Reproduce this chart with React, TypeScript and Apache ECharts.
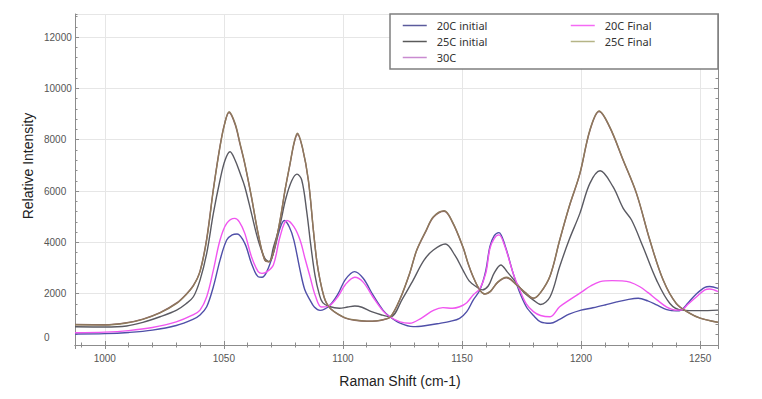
import React, { useEffect, useRef } from "react";
import * as echarts from "echarts";

const seriesNames = ["20C initial", "25C initial", "30C", "20C Final", "25C Final"];

const initial20C: [number, number][] = [
  [987.5, 430], [1000, 445], [1010, 490], [1020, 580], [1030, 760], [1037, 1000], [1040, 1170],
  [1042.8, 1490], [1045.6, 2270], [1048.4, 3310], [1051.2, 4090], [1053.5, 4290], [1055.6, 4325],
  [1058.8, 3960], [1061.6, 3180], [1064.4, 2660], [1066, 2640], [1068, 2850], [1070.8, 3570],
  [1073.6, 4550], [1075.4, 4850], [1077.5, 4600], [1079.4, 4090], [1082, 2920], [1084, 2150],
  [1086.2, 1750], [1088, 1480], [1090.4, 1350], [1094.3, 1530], [1098, 2000], [1101, 2550],
  [1104.9, 2860], [1108.5, 2600], [1112.6, 1950], [1116.8, 1360], [1119.7, 1100], [1124, 850],
  [1129.5, 715], [1135, 760], [1140.7, 845], [1145, 920], [1149, 1040], [1152, 1300], [1154.7, 1750],
  [1157.5, 2140], [1160, 2900], [1161.7, 3830], [1163.5, 4250], [1165.5, 4380], [1168, 3900],
  [1171.5, 2790], [1174, 2100], [1177, 1490], [1180, 1150], [1183, 900], [1187, 845], [1191, 1000],
  [1195, 1200], [1200, 1360], [1205, 1450], [1210, 1560], [1215, 1680], [1220, 1780], [1224, 1820],
  [1228, 1720], [1232, 1550], [1236, 1380], [1240, 1330], [1242, 1360], [1245, 1650], [1248.5, 2000],
  [1252, 2250], [1254, 2280], [1257.5, 2210],
];

const final20C: [number, number][] = [
  [987.5, 480], [1000, 500], [1010, 560], [1020, 680], [1030, 900], [1037, 1170], [1040, 1360],
  [1042.8, 1880], [1045.6, 2920], [1048.4, 4090], [1051.2, 4740], [1054.6, 4935], [1056.5, 4800],
  [1058.8, 4350], [1061.6, 3440], [1064.4, 2860], [1066, 2790], [1068, 2850], [1070.8, 3120],
  [1073.6, 4220], [1076.5, 4850], [1079.4, 4610], [1082, 4090], [1084, 3400], [1086.2, 2660],
  [1088.5, 1900], [1091, 1480], [1094.3, 1530], [1098, 1900], [1101, 2350], [1105, 2640],
  [1108.5, 2450], [1112.6, 1870], [1116.8, 1330], [1119.7, 1100], [1124, 900], [1128, 845],
  [1133, 1050], [1138, 1350], [1142, 1455], [1146, 1430], [1149, 1490], [1152, 1650], [1154.7, 1950],
  [1157.5, 2200], [1160, 2800], [1161.7, 3750], [1163.5, 4150], [1165.5, 4290], [1168, 3850],
  [1171.5, 2790], [1174, 2200], [1177, 1600], [1180, 1300], [1183, 1150], [1187, 1100], [1191, 1490],
  [1195, 1750], [1200, 2050], [1204, 2300], [1208, 2470], [1213, 2510], [1217, 2500], [1220.5, 2450],
  [1224.7, 2270], [1228, 2050], [1232, 1750], [1236, 1480], [1240, 1360], [1242, 1360], [1245, 1600],
  [1248.5, 1880], [1252, 2150], [1254, 2180], [1257.5, 2080],
];

const initial25C: [number, number][] = [
  [987.5, 710], [1000, 700], [1009.2, 740], [1016, 880], [1023.2, 1100], [1030.2, 1360], [1034, 1600],
  [1037.2, 1880], [1040, 2530], [1042.8, 3570], [1045.6, 5130], [1048.4, 6430], [1050.5, 7200],
  [1052.6, 7530], [1054.7, 7210], [1056.8, 6700], [1058.8, 6170], [1061.6, 5130], [1064.4, 4090],
  [1067.2, 3380], [1069, 3250], [1070.8, 3800], [1073.6, 4700], [1076, 5700], [1078.5, 6400],
  [1080.7, 6660], [1082.7, 6430], [1084.8, 5200], [1086.5, 3900], [1088.3, 2700], [1090, 2000],
  [1091.5, 1650], [1094.3, 1500], [1098.5, 1430], [1102, 1480], [1105, 1520], [1108, 1470],
  [1112, 1300], [1116, 1180], [1120, 1100], [1125, 1800], [1129.5, 2530], [1134, 3300], [1138, 3700],
  [1143, 3935], [1147, 3500], [1150.4, 2920], [1153, 2500], [1156, 2270], [1158.5, 2150], [1161, 2300],
  [1163.5, 2800], [1166.3, 3120], [1169, 2850], [1173, 2400], [1176, 2050], [1180, 1750], [1183, 1580],
  [1187, 1880], [1191, 3050], [1195, 4100], [1199.5, 5130], [1203.7, 6300], [1208, 6790],
  [1213.4, 6170], [1217.7, 5325], [1221.2, 4870], [1226, 3830], [1231.7, 2530], [1237.3, 1620],
  [1242.2, 1360], [1250, 1340], [1257.5, 1360],
];

const final25C: [number, number][] = [
  [987.5, 790], [1000, 780], [1009.2, 860], [1016, 1000], [1023.2, 1250], [1030.2, 1620], [1034, 1950],
  [1037.2, 2300], [1040, 2860], [1042.8, 4100], [1045.6, 6040], [1048.4, 7730], [1050.3, 8600],
  [1052.2, 9090], [1054.7, 8640], [1056.8, 7860], [1058.8, 7080], [1061.6, 5780], [1064.4, 4350],
  [1067.2, 3310], [1069, 3250], [1070.8, 3600], [1073.6, 4870], [1075.8, 6100], [1077.8, 7080],
  [1079.5, 7900], [1080.9, 8250], [1083, 7700], [1085.5, 6430], [1087.6, 4480], [1089, 3300],
  [1090.4, 2530], [1092, 1900], [1093.2, 1620], [1095, 1400], [1098, 1200], [1101, 1060], [1105, 975],
  [1110, 930], [1114, 940], [1117, 990], [1120, 1100], [1124, 1800], [1128, 2790], [1131, 3700],
  [1135, 4480], [1138, 5000], [1142.5, 5235], [1146, 4800], [1150.4, 3830], [1152.5, 3200],
  [1154.7, 2660], [1157.5, 2140], [1159.6, 1990], [1162, 2100], [1165, 2450], [1168.7, 2640],
  [1173, 2340], [1176.5, 2050], [1180, 1820], [1183, 2050], [1187, 2700], [1191, 4090], [1195, 5400],
  [1199.5, 6690], [1203.7, 8380], [1207.6, 9120], [1212, 8510], [1217.7, 7210], [1223.3, 5910],
  [1228.9, 4090], [1234.5, 2530], [1240, 1620], [1245.7, 1235], [1250, 1050], [1257.5, 885],
];

const temp30C: [number, number][] = [
  [987.5, 800], [1000, 790], [1009.2, 870], [1016, 1010], [1023.2, 1260], [1030.2, 1640], [1034, 1960],
  [1037.2, 2320], [1040, 2880], [1042.8, 4150], [1045.6, 6080], [1048.4, 7760], [1050.3, 8620],
  [1052.2, 9060], [1054.7, 8600], [1056.8, 7820], [1058.8, 7050], [1061.6, 5750], [1064.4, 4330],
  [1067.2, 3300], [1069, 3240], [1070.8, 3590], [1073.6, 4850], [1075.8, 6080], [1077.8, 7050],
  [1079.5, 7860], [1080.9, 8200], [1083, 7680], [1085.5, 6400], [1087.6, 4460], [1089, 3290],
  [1090.4, 2520], [1092, 1890], [1093.2, 1610], [1095, 1390], [1098, 1190], [1101, 1050], [1105, 965],
  [1110, 925], [1114, 935], [1117, 985], [1120, 1100], [1124, 1790], [1128, 2780], [1131, 3690],
  [1135, 4460], [1138, 4980], [1142.5, 5210], [1146, 4780], [1150.4, 3810], [1152.5, 3190],
  [1154.7, 2650], [1157.5, 2140], [1159.6, 1990], [1162, 2090], [1165, 2440], [1168.7, 2620],
  [1173, 2330], [1176.5, 2040], [1180, 1820], [1183, 2040], [1187, 2690], [1191, 4070], [1195, 5380],
  [1199.5, 6670], [1203.7, 8350], [1207.6, 9100], [1212, 8490], [1217.7, 7190], [1223.3, 5890],
  [1228.9, 4070], [1234.5, 2520], [1240, 1610], [1245.7, 1230], [1250, 1045], [1257.5, 880],
];

const seriesData = [initial20C, initial25C, temp30C, final20C, final25C];
const lineColors = ["#4f4fa8", "#5a5a62", "#8b5e66", "#f055f0", "#8e7a5c"];
const legendColors = ["#5b5b9c", "#5a5a5a", "#c98bd0", "#f56af5", "#b5b486"];

const xMin = 987.5;
const xMax = 1257.5;
const yMin = 0;
const yMax = 12900;

export default function App() {
  const ref = useRef<HTMLDivElement>(null);

  useEffect(() => {
    if (!ref.current) return;
    const chart = echarts.init(ref.current, null, { renderer: "svg" });
    const frame = "#8c8c8c";
    const labelFont = "Liberation Sans";

    const legendItem = (i: number) => ({
      name: seriesNames[i],
      itemStyle: { color: legendColors[i], opacity: 0 },
      lineStyle: { color: legendColors[i], width: 1.5, opacity: 1 },
    });
    const legendBase = {
      orient: "vertical",
      top: 15,
      itemWidth: 24,
      itemHeight: 10,
      itemGap: 5,
      selectedMode: false,
      z: 10,
      textStyle: { fontSize: 11, fontFamily: "Noto Sans", color: "#333", padding: [0, 0, 0, 5] },
    };

    const xCommon = { type: "value", min: xMin, max: xMax, gridIndex: 0 };
    const yCommon = { type: "value", min: yMin, max: yMax, gridIndex: 0 };

    chart.setOption({
      animation: false,
      backgroundColor: "#ffffff",
      grid: { left: 75, top: 14, width: 643, height: 331, containLabel: false },
      legend: [
        { ...legendBase, left: 397, data: [0, 1, 2].map(legendItem) },
        { ...legendBase, left: 565, data: [3, 4].map(legendItem) },
      ],
      xAxis: [
        {
          ...xCommon,
          position: "bottom",
          splitNumber: 5,
          axisLine: { show: true, lineStyle: { color: frame, width: 1 } },
          axisTick: { show: true, inside: true, length: 4, lineStyle: { color: frame } },
          axisLabel: {
            show: true,
            fontSize: 10,
            color: "#555",
            fontFamily: labelFont,
            margin: 8,
            showMinLabel: false,
            showMaxLabel: false,
            formatter: (v: number) => String(v),
          },
          splitLine: { show: true, lineStyle: { color: "#e6e6e6", width: 1 } },
        },
        {
          ...xCommon,
          position: "bottom",
          splitNumber: 27,
          axisLine: { show: false },
          axisTick: { show: true, inside: true, length: 2.5, lineStyle: { color: frame } },
          axisLabel: { show: false },
          splitLine: { show: false },
        },
        {
          ...xCommon,
          position: "top",
          splitNumber: 5,
          axisLine: { show: true, lineStyle: { color: frame, width: 1 } },
          axisTick: { show: true, inside: true, length: 4, lineStyle: { color: frame } },
          axisLabel: { show: false },
          splitLine: { show: false },
        },
        {
          ...xCommon,
          position: "top",
          splitNumber: 27,
          axisLine: { show: false },
          axisTick: { show: true, inside: true, length: 2.5, lineStyle: { color: frame } },
          axisLabel: { show: false },
          splitLine: { show: false },
        },
      ],
      yAxis: [
        {
          ...yCommon,
          position: "left",
          interval: 2000,
          axisLine: { show: true, lineStyle: { color: frame, width: 1 } },
          axisTick: { show: true, inside: true, length: 4, lineStyle: { color: frame } },
          axisLabel: {
            show: true,
            align: "left",
            margin: 31,
            fontSize: 10,
            color: "#555",
            fontFamily: labelFont,
            showMaxLabel: false,
            formatter: (v: number) => (v === 0 ? "{z|0}" : String(v)),
            rich: {
              z: { fontSize: 10, color: "#555", fontFamily: labelFont, padding: [0, 0, 16, 0] },
            },
          },
          splitLine: { show: true, lineStyle: { color: "#e6e6e6", width: 1 } },
        },
        {
          ...yCommon,
          position: "left",
          interval: 400,
          axisLine: { show: false },
          axisTick: { show: true, inside: true, length: 2.5, lineStyle: { color: frame } },
          axisLabel: { show: false },
          splitLine: { show: false },
        },
        {
          ...yCommon,
          position: "right",
          interval: 2000,
          axisLine: { show: true, lineStyle: { color: frame, width: 1 } },
          axisTick: { show: true, inside: true, length: 4, lineStyle: { color: frame } },
          axisLabel: { show: false },
          splitLine: { show: false },
        },
        {
          ...yCommon,
          position: "right",
          interval: 400,
          axisLine: { show: false },
          axisTick: { show: true, inside: true, length: 2.5, lineStyle: { color: frame } },
          axisLabel: { show: false },
          splitLine: { show: false },
        },
      ],
      graphic: [
        {
          type: "rect",
          z: 5,
          shape: { x: 390, y: 14, width: 328, height: 55 },
          style: { fill: "#ffffff", stroke: "#7f7f7f", lineWidth: 1.5 },
        },
        {
          type: "text",
          x: 28,
          y: 166,
          rotation: Math.PI / 2,
          style: {
            text: "Relative Intensity",
            fontSize: 14,
            fontFamily: labelFont,
            fill: "#222",
            align: "center",
            verticalAlign: "middle",
          },
        },
        {
          type: "text",
          x: 400,
          y: 381,
          style: {
            text: "Raman Shift (cm-1)",
            fontSize: 14,
            fontFamily: labelFont,
            fill: "#222",
            align: "center",
            verticalAlign: "middle",
          },
        },
      ],
      series: seriesData.map((d, i) => ({
        name: seriesNames[i],
        type: "line",
        xAxisIndex: 0,
        yAxisIndex: 0,
        data: d,
        symbol: "none",
        showSymbol: false,
        smooth: 0.35,
        z: 3,
        itemStyle: { color: lineColors[i] },
        lineStyle: { color: lineColors[i], width: 1.4 },
      })),
    });

    return () => {
      chart.dispose();
    };
  }, []);

  return (
    <div
      ref={ref}
      style={{ position: "fixed", left: 0, top: 0, width: 762, height: 399, background: "#fff" }}
    />
  );
}
